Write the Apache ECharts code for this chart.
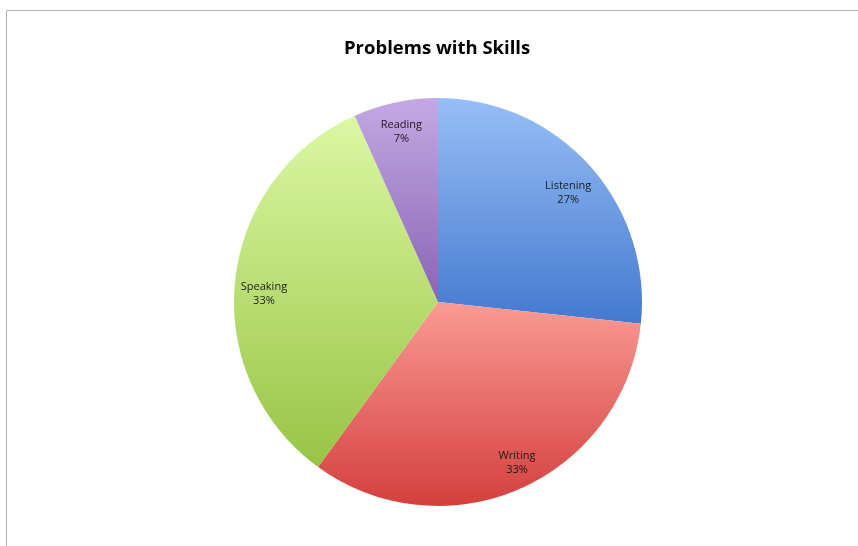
<!DOCTYPE html>
<html><head><meta charset="utf-8">
<script src="https://cdn.jsdelivr.net/npm/echarts@6/dist/echarts.min.js"></script>
<style>html,body{margin:0;padding:0;background:#fff}#c{width:858px;height:546px}</style>
</head><body><div id="c"></div>
<script>
const titleText = 'Problems with Skills';
const categories = ['Listening', 'Writing', 'Speaking', 'Reading'];
const values = [26.7, 33.3, 33.3, 6.7];
const topColors = ['#97bff6', '#fa9a94', '#dbf8a3', '#c4a8e4'];
const bottomColors = ['#4479cf', '#d43f3d', '#97c445', '#8a64b4'];

const chart = echarts.init(document.getElementById('c'), null, {renderer: 'canvas'});
const dataMain = categories.map((c, i) => ({
  name: c, value: values[i],
  itemStyle: {color: new echarts.graphic.LinearGradient(0, 0, 0, 1, [
    {offset: 0, color: topColors[i]}, {offset: 1, color: bottomColors[i]}])}
}));
const labelShift = {Listening: [0, 8], Speaking: [0, 10], Writing: [8, 1]};
const dataLabel = categories.map((c, i) => ({name: c, value: values[i],
  label: {offset: labelShift[c] || [0, 1]}}));
chart.setOption({
  animation: false,
  title: {text: titleText, left: 344, top: 39, padding: 0,
    textStyle: {fontFamily: 'Open Sans', fontWeight: 'bold', fontSize: 18.5, color: '#000'}},
  graphic: [
    {type: 'line', shape: {x1: 6.5, y1: 10.5, x2: 858, y2: 10.5}, style: {stroke: '#b0b0b0', lineWidth: 1}},
    {type: 'line', shape: {x1: 6.5, y1: 10.5, x2: 6.5, y2: 546}, style: {stroke: '#b0b0b0', lineWidth: 1}}
  ],
  series: [
    {type: 'pie', center: [438, 302], radius: [0, 204], startAngle: 90, clockwise: true,
     label: {show: false}, labelLine: {show: false}, silent: true,
     itemStyle: {borderWidth: 0}, data: dataMain},
    {type: 'pie', center: [438, 302], radius: [140, 204], startAngle: 90, clockwise: true,
     percentPrecision: 0, silent: true,
     itemStyle: {color: 'rgba(0,0,0,0)', borderWidth: 0},
     label: {show: true, position: 'inside', formatter: '{b}\n{d}%',
       fontFamily: 'Open Sans', fontSize: 11, lineHeight: 14, color: '#1a1a1a'},
     labelLine: {show: false}, data: dataLabel}
  ]
});
</script></body></html>
